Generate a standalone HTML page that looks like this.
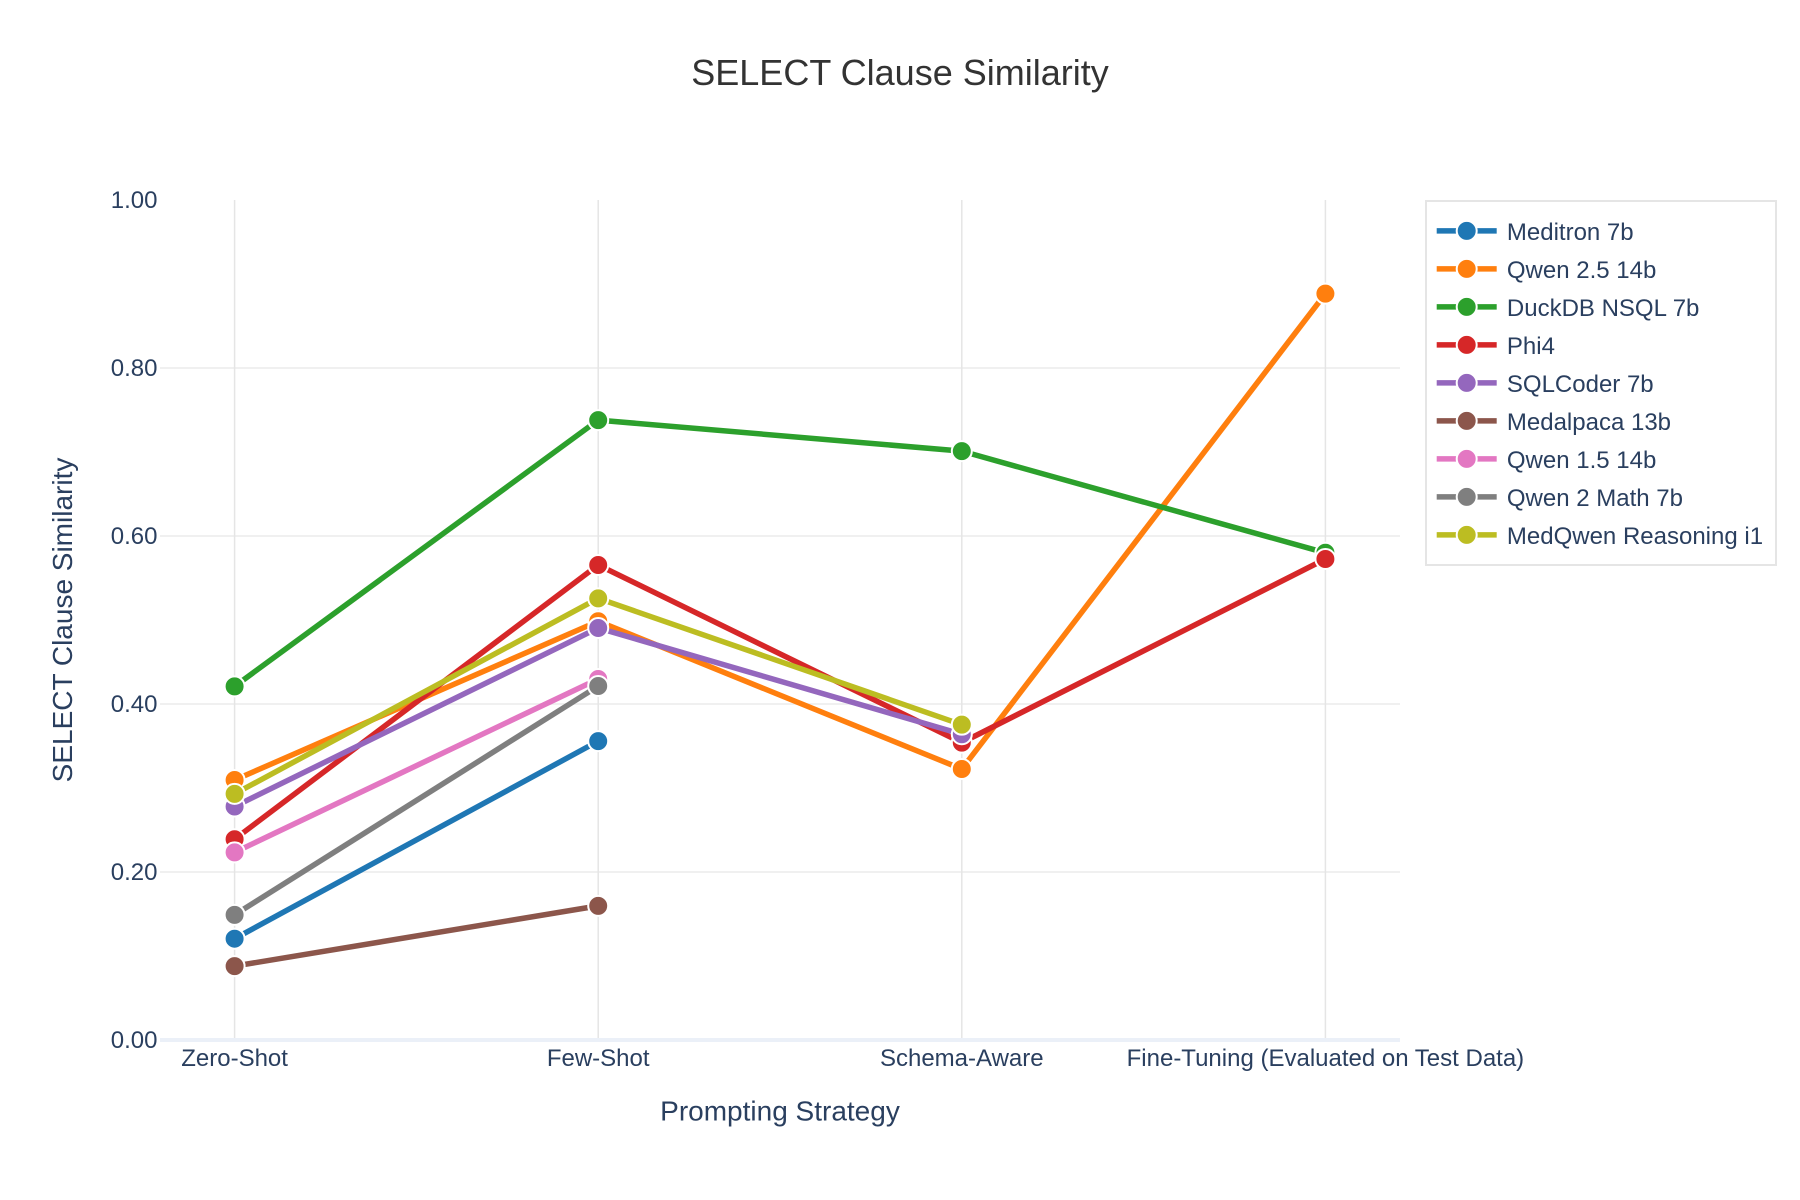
<!DOCTYPE html>
<html lang="en">
<head>
<meta charset="utf-8">
<title>SELECT Clause Similarity</title>
<style>
  html, body { margin: 0; padding: 0; background: #fff; }
  #chart-root { width: 1800px; height: 1200px; display: block; }
  svg text { font-family: "Liberation Sans", Arial, sans-serif; }
</style>
</head>
<body>
<svg id="chart-root" xmlns="http://www.w3.org/2000/svg" width="1800" height="1200" viewBox="0 0 1800 1200">
  <rect x="0" y="0" width="1800" height="1200" fill="#ffffff"></rect>
  <text x="900" y="85" text-anchor="middle" font-size="36" fill="#333333">SELECT Clause Similarity</text>
  <g id="grid"></g>
  <g id="y-ticks"></g>
  <g id="x-ticks"></g>
  <g id="series"></g>
  <text x="780" y="1120.5" text-anchor="middle" font-size="28" fill="#2a3f5f">Prompting Strategy</text>
  <text transform="translate(72 620) rotate(-90)" text-anchor="middle" font-size="28" fill="#2a3f5f">SELECT Clause Similarity</text>
  <g id="legend">
    <rect x="1426" y="201" width="350" height="364" fill="#ffffff" stroke="#e5e5e5" stroke-width="2"></rect>
  </g>
</svg>
<script>
const categories = ["Zero-Shot", "Few-Shot", "Schema-Aware", "Fine-Tuning (Evaluated on Test Data)"];
const yTickValues = [0, 0.2, 0.4, 0.6, 0.8, 1.0];
const yTickLabels = ["0.00", "0.20", "0.40", "0.60", "0.80", "1.00"];
const seriesNames = ["Meditron 7b", "Qwen 2.5 14b", "DuckDB NSQL 7b", "Phi4", "SQLCoder 7b", "Medalpaca 13b", "Qwen 1.5 14b", "Qwen 2 Math 7b", "MedQwen Reasoning i1"];
const seriesColors = ["#1f77b4", "#ff7f0e", "#2ca02c", "#d62728", "#9467bd", "#8c564b", "#e377c2", "#7f7f7f", "#bcbd22"];
const meditronValues = [0.1206, 0.3558, null, null];
const qwen25Values = [0.3095, 0.4985, 0.3226, 0.8885];
const duckdbValues = [0.421, 0.738, 0.701, 0.58];
const phi4Values = [0.239, 0.5655, 0.354, 0.5726];
const sqlcoderValues = [0.278, 0.4905, 0.364, null];
const medalpacaValues = [0.088, 0.1597, null, null];
const qwen15Values = [0.2234, 0.4298, null, null];
const qwen2MathValues = [0.149, 0.4214, null, null];
const medqwenValues = [0.293, 0.5258, 0.3754, null];
const allSeriesValues = [meditronValues, qwen25Values, duckdbValues, phi4Values, sqlcoderValues, medalpacaValues, qwen15Values, qwen2MathValues, medqwenValues];

const SVG_NS = "http://www.w3.org/2000/svg";
const plotLeft = 160, plotRight = 1400, plotTop = 200, plotBottom = 1040;
const xStep = 363.6, xStart = 234.6;
function xScale(i) { return xStart + i * xStep; }
function yScale(v) { return plotBottom - (plotBottom - plotTop) * v; }
function make(tag, attrs, parent) {
  const el = document.createElementNS(SVG_NS, tag);
  for (const k in attrs) el.setAttribute(k, attrs[k]);
  parent.appendChild(el);
  return el;
}
function slug(s) { return s.toLowerCase().replace(/[^a-z0-9]+/g, '-').replace(/^-|-$/g, ''); }

const grid = document.getElementById('grid');
const yTicksG = document.getElementById('y-ticks');
const xTicksG = document.getElementById('x-ticks');
const seriesG = document.getElementById('series');
const legendG = document.getElementById('legend');

yTickValues.forEach(function (v, i) {
  const y = yScale(v);
  if (v !== 0 && v !== 1) {
    const line = make('line', { x1: plotLeft, x2: plotRight, y1: y, y2: y, stroke: '#f0f0f0', 'stroke-width': 2 }, grid);
    
    
  }
  const label = make('text', { x: 157.5, y: y + 7.8, 'text-anchor': 'end', 'font-size': 24, fill: '#2a3f5f' }, yTicksG);
  label.textContent = yTickLabels[i];
  
  
});

categories.forEach(function (c, i) {
  const x = xScale(i);
  const line = make('line', { x1: x, x2: x, y1: plotTop, y2: plotBottom, stroke: '#e5e5e5', 'stroke-width': 1.5 }, grid);
  
  
  const label = make('text', { x: x, y: 1066, 'text-anchor': 'middle', 'font-size': 24, fill: '#2a3f5f' }, xTicksG);
  label.textContent = c;
  
  
});

const zeroLine = make('line', { x1: plotLeft, x2: plotRight, y1: yScale(0), y2: yScale(0), stroke: '#ebf0f8', 'stroke-width': 4 }, grid);



seriesNames.forEach(function (name, s) {
  const values = allSeriesValues[s];
  const color = seriesColors[s];
  const group = make('g', {}, seriesG);
  
  
  const pts = [];
  values.forEach(function (v, i) {
    if (v !== null) pts.push([xScale(i), yScale(v)]);
  });
  const path = make('polyline', {
    points: pts.map(function (p) { return p[0] + ',' + p[1]; }).join(' '),
    fill: 'none', stroke: color, 'stroke-width': 5.5, 'stroke-linejoin': 'round'
  }, group);
  
  
  pts.forEach(function (p) {
    const dot = make('circle', { cx: p[0], cy: p[1], r: 10, fill: color, stroke: '#ffffff', 'stroke-width': 2 }, group);
    
    
  });

  const ly = 230.9 + s * 38;
  const entry = make('g', {}, legendG);
  
  
  make('line', { x1: 1436.7, x2: 1496.7, y1: ly, y2: ly, stroke: color, 'stroke-width': 5.5 }, entry);
  make('circle', { cx: 1466.7, cy: ly, r: 10, fill: color, stroke: '#ffffff', 'stroke-width': 2 }, entry);
  const text = make('text', { x: 1506.9, y: ly + 9.2, 'font-size': 24, fill: '#2a3f5f' }, entry);
  text.textContent = name;
});
</script>
</body>
</html>
